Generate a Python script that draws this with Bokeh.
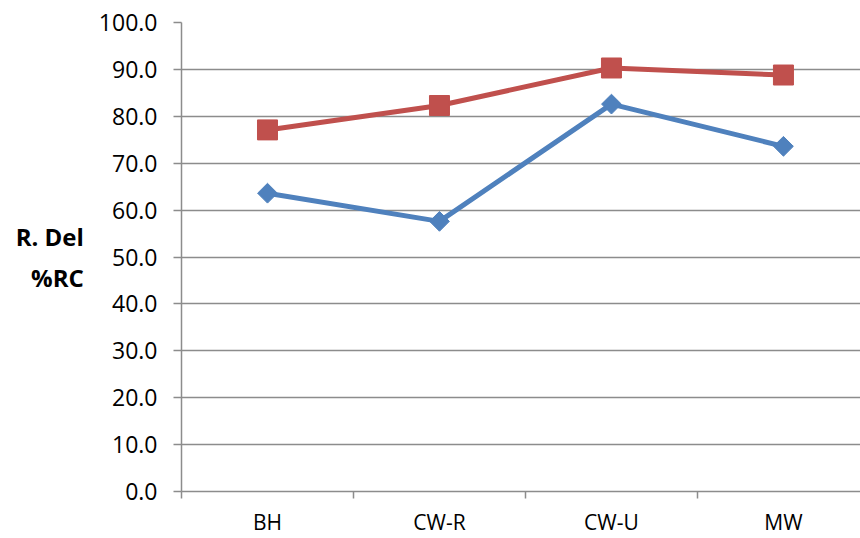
from bokeh.plotting import figure
from bokeh.models import Range1d, FixedTicker
from bokeh.embed import file_html
from bokeh.resources import INLINE
import math

# Sites along the x axis and the two measured series (%)
categories = ["BH", "CW-R", "CW-U", "MW"]
series_red = [77.1, 82.3, 90.3, 88.8]
series_blue = [63.6, 57.6, 82.6, 73.6]
y_ticks = [0, 10, 20, 30, 40, 50, 60, 70, 80, 90, 100]

# category centres sit in the middle of each unit-wide band
xs = [i + 0.5 for i in range(len(categories))]

FONT = "Open Sans"
GRID = "#8c8c8c"

p = figure(
    frame_width=679, frame_height=469,
    output_backend="svg", toolbar_location=None,
    x_range=Range1d(0, 3.948), y_range=Range1d(0, 100),
    min_border_left=181, min_border_right=0,
    min_border_top=22, min_border_bottom=47,
)
p.outline_line_color = None
p.background_fill_color = "white"
p.border_fill_color = "white"

# x axis: labels at the band centres, tick marks at band boundaries
p.xaxis.ticker = FixedTicker(ticks=xs, minor_ticks=list(range(len(categories) + 1)))
p.xaxis.major_label_overrides = {x: c for x, c in zip(xs, categories)}
p.xaxis.major_tick_line_color = None
p.xaxis.minor_tick_line_color = GRID
p.xaxis.minor_tick_line_width = 1.5
p.xaxis.minor_tick_out = 7
p.xaxis.minor_tick_in = 0
p.xaxis.axis_line_color = GRID
p.xaxis.axis_line_width = 1.5
p.xaxis.major_label_text_font = FONT
p.xaxis.major_label_text_font_size = "21px"
p.xaxis.major_label_text_color = "#000000"
p.xaxis.major_label_standoff = 9

# y axis
p.yaxis.ticker = FixedTicker(ticks=y_ticks)
p.yaxis.major_label_overrides = {t: f"{t:.1f}" for t in y_ticks}
p.yaxis.minor_tick_line_color = None
p.yaxis.major_tick_line_color = GRID
p.yaxis.major_tick_line_width = 1.5
p.yaxis.major_tick_out = 8
p.yaxis.major_tick_in = 0
p.yaxis.axis_line_color = GRID
p.yaxis.axis_line_width = 1.5
p.yaxis.major_label_text_font = FONT
p.yaxis.major_label_text_font_size = "23px"
p.yaxis.major_label_text_color = "#000000"
p.yaxis.major_label_standoff = 16

# horizontal two-line axis title
p.yaxis.axis_label = "R. Del\n%RC"
p.yaxis.axis_label_orientation = "horizontal"
p.yaxis.axis_label_text_font = FONT
p.yaxis.axis_label_text_font_style = "bold"
p.yaxis.axis_label_text_font_size = "24px"
p.yaxis.axis_label_text_color = "#000000"
p.yaxis.axis_label_text_align = "center"
p.yaxis.axis_label_text_line_height = 1.25
p.yaxis.axis_label_standoff = 12

p.xgrid.grid_line_color = None
p.ygrid.grid_line_color = GRID
p.ygrid.grid_line_width = 1.5

# series lines and markers
p.line(xs, series_red, line_color="#C0504D", line_width=5)
p.scatter(xs, series_red, marker="square", size=20,
          fill_color="#C0504D", line_color="#C0504D")

p.line(xs, series_blue, line_color="#4F81BD", line_width=5)
p.scatter(xs, series_blue, marker="square", size=14, angle=math.pi / 4,
          fill_color="#4F81BD", line_color="#4F81BD")

open("out.html", "w").write(file_html(p, INLINE))
